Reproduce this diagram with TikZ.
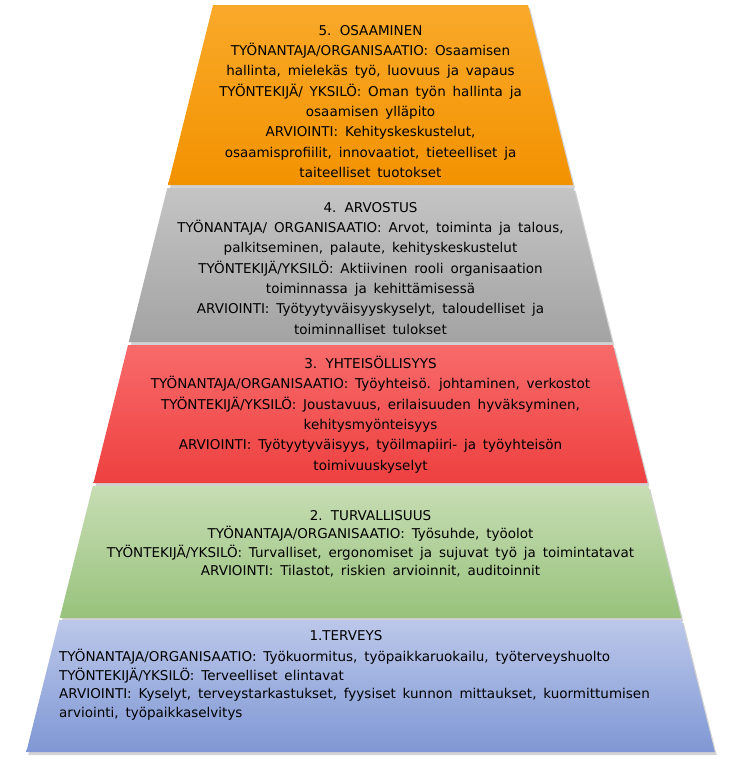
\documentclass[tikz,border=0pt]{standalone}
\usepackage{fontspec}
\setmainfont[WordSpace=1.6]{DejaVu Sans}
\usetikzlibrary{shadows}
\definecolor{o1}{HTML}{F9A92A}\definecolor{o2}{HTML}{F39200}
\definecolor{g1}{HTML}{C4C4C4}\definecolor{g2}{HTML}{A3A3A3}
\definecolor{r1}{HTML}{F86A6A}\definecolor{r2}{HTML}{EE4040}
\definecolor{v1}{HTML}{C7DDB4}\definecolor{v2}{HTML}{98C27C}
\definecolor{b1}{HTML}{BCC8EA}\definecolor{b2}{HTML}{7F97D4}
\tikzset{lvl/.style args={#1/#2}{top color=#1,bottom color=#2,draw=none,drop shadow={shadow xshift=2pt,shadow yshift=-3pt,opacity=0.35}},
 txt/.style={align=center,font=\fontsize{13.5}{20.3}\selectfont,inner sep=0pt}}
\begin{document}
\begin{tikzpicture}[x=1pt,y=-1pt]
\useasboundingbox[fill=white] (0,0) rectangle (739,761);
\path[lvl=o1/o2] (213,5) -- (528,5) -- (573,185) -- (168,185) -- cycle;
\path[lvl=g1/g2] (167.25,188) -- (573.75,188) -- (612.25,342) -- (128.75,342) -- cycle;
\path[lvl=r1/r2] (128,345) -- (613,345) -- (647.5,483) -- (93.5,483) -- cycle;
\path[lvl=v1/v2] (92.75,486) -- (648.25,486) -- (681.25,618) -- (59.75,618) -- cycle;
\path[lvl=b1/b2] (59.25,620) -- (681.75,620) -- (714.75,752) -- (26.25,752) -- cycle;
\node[txt,anchor=north] (t5) at (370.5,25) {5. OSAAMINEN\\TYÖNANTAJA/ORGANISAATIO: Osaamisen\\hallinta, mielekäs työ, luovuus ja vapaus\\TYÖNTEKIJÄ/ YKSILÖ: Oman työn hallinta ja\\osaamisen ylläpito\\ARVIOINTI: Kehityskeskustelut,\\osaamisprofiilit, innovaatiot, tieteelliset ja\\taiteelliset tuotokset};
\node[txt,anchor=north] (t4) at (370.5,202) {4. ARVOSTUS\\TYÖNANTAJA/ ORGANISAATIO: Arvot, toiminta ja talous,\\palkitseminen, palaute, kehityskeskustelut\\TYÖNTEKIJÄ/YKSILÖ: Aktiivinen rooli organisaation\\toiminnassa ja kehittämisessä\\ARVIOINTI: Työtyytyväisyyskyselyt, taloudelliset ja\\toiminnalliset tulokset};
\node[txt,anchor=north] (t3) at (370.5,356) {3. YHTEISÖLLISYYS\\TYÖNANTAJA/ORGANISAATIO: Työyhteisö. johtaminen, verkostot\\TYÖNTEKIJÄ/YKSILÖ: Joustavuus, erilaisuuden hyväksyminen,\\kehitysmyönteisyys\\ARVIOINTI: Työtyytyväisyys, työilmapiiri- ja työyhteisön\\toimivuuskyselyt};
\node[txt,anchor=north,font=\fontsize{13.5}{18.5}\selectfont] (t2) at (370.5,510) {2. TURVALLISUUS\\TYÖNANTAJA/ORGANISAATIO: Työsuhde, työolot\\TYÖNTEKIJÄ/YKSILÖ: Turvalliset, ergonomiset ja sujuvat työ ja toimintatavat\\ARVIOINTI: Tilastot, riskien arvioinnit, auditoinnit};
\node[txt,anchor=north,font=\fontsize{13.5}{18.5}\selectfont] (t1h) at (346,630) {1.TERVEYS};
\node[txt,anchor=north west,align=left,font=\fontsize{13.5}{18.5}\selectfont] (t1) at (59,649) {TYÖNANTAJA/ORGANISAATIO: Työkuormitus, työpaikkaruokailu, työterveyshuolto\\TYÖNTEKIJÄ/YKSILÖ: Terveelliset elintavat\\ARVIOINTI: Kyselyt, terveystarkastukset, fyysiset kunnon mittaukset, kuormittumisen\\arviointi, työpaikkaselvitys};
\end{tikzpicture}
\end{document}
